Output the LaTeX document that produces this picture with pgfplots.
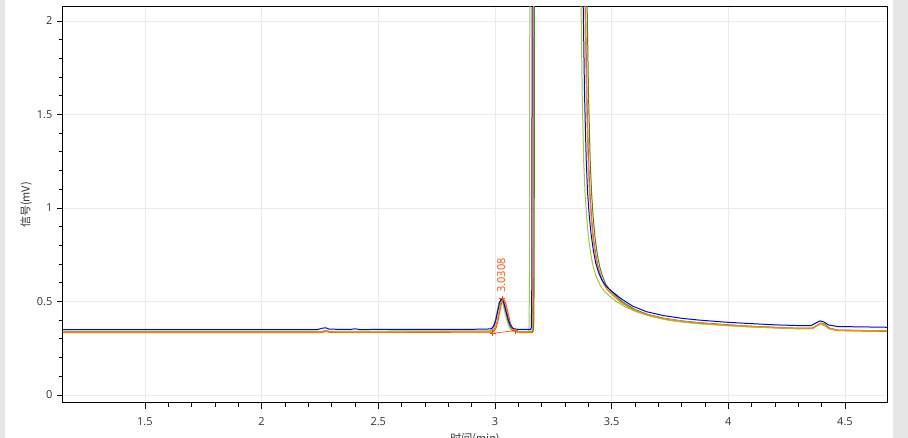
\documentclass[border=0pt]{standalone}
\usepackage{pgfplots}
\pgfplotsset{compat=1.18}
\usepackage{fontspec}
\setmainfont{Open Sans}
\newfontfamily\cjk{Noto Sans CJK SC}

\definecolor{cblue}{HTML}{0000FF}
\definecolor{corange}{HTML}{FF8C00}
\definecolor{cred}{HTML}{FF4500}
\definecolor{clgreen}{HTML}{9ACD32}
\definecolor{cdgreen}{HTML}{3A8A2A}
\definecolor{gridc}{HTML}{EBEBEB}
\definecolor{side}{HTML}{E6E6E6}
\definecolor{txt}{HTML}{333333}

\begin{document}
\begin{tikzpicture}
% page background and the grey strips at both sides
\fill[white] (-63pt,-35pt) rectangle (845pt,403pt);
\fill[side] (-63pt,-35pt) rectangle (-58pt,403pt);
\fill[side] (830pt,-35pt) rectangle (845pt,403pt);
\begin{axis}[
  at={(0,0)}, anchor=south west,
  scale only axis, width=824pt, height=396pt,
  xmin=1.149, xmax=4.68, ymin=-0.043, ymax=2.075,
  xtick={1.5,2,...,4.5}, ytick={0,0.5,...,2},
  minor x tick num=4, minor y tick num=4,
  tick align=outside, xtick pos=left, ytick pos=left,
  major tick length=6pt, minor tick length=4pt,
  grid=major, major grid style={gridc, line width=0.8pt},
  axis line style={black, line width=1pt},
  tick style={black, line width=0.8pt},
  ticklabel style={font=\fontsize{11}{13}\selectfont, text=txt},
  xticklabel style={yshift=-5pt},
  yticklabel style={xshift=-1pt},
  /pgf/number format/assume math mode=true,
  xlabel={\cjk 时间(min)}, ylabel={\cjk 信号(mV)},
  every axis x label/.style={at={(axis description cs:0.5,0)}, anchor=base,
    yshift=-39.5pt, font=\fontsize{11}{13}\selectfont, text=txt},
  every axis y label/.style={at={(axis description cs:0,0.5)}, xshift=-37pt,
    rotate=90, anchor=center, font=\fontsize{11}{13}\selectfont, text=txt},
  every axis plot/.append style={line width=1pt, line join=round},
]
% orange-red
\addplot[cred] coordinates {
(1.149,0.334) (2.26,0.334) (2.277,0.340) (2.29,0.335) (2.39,0.334) (2.40,0.337) (2.41,0.334)
(2.988,0.336) (2.996,0.342) (3.004,0.358) (3.012,0.393) (3.020,0.443) (3.028,0.493)
(3.036,0.514) (3.0455,0.493) (3.055,0.443) (3.0645,0.393) (3.074,0.358) (3.0835,0.342)
(3.093,0.336) (3.105,0.334) (3.160,0.334) (3.163,0.36) (3.165,0.6) (3.167,3) (3.170,8)
(3.38,8) (3.383,3.0) (3.388,2.08) (3.394,1.6) (3.401,1.26) (3.407,1.08) (3.414,0.95)
(3.422,0.84) (3.432,0.75) (3.442,0.685) (3.454,0.633) (3.467,0.593) (3.482,0.563)
(3.502,0.538) (3.537,0.498) (3.59,0.456) (3.65,0.428) (3.72,0.408) (3.80,0.393)
(3.87,0.384) (3.98,0.373) (4.09,0.365) (4.20,0.359) (4.30,0.354) (4.36,0.355)
(4.38,0.37) (4.397,0.382) (4.414,0.376) (4.434,0.354) (4.47,0.344) (4.68,0.340)
};
% dark green
\addplot[cdgreen] coordinates {
(1.149,0.340) (2.26,0.340) (2.275,0.345) (2.29,0.340)
(2.979,0.342) (2.987,0.347) (2.995,0.363) (3.003,0.395) (3.011,0.443) (3.019,0.490)
(3.027,0.510) (3.0365,0.490) (3.046,0.443) (3.0555,0.395) (3.065,0.363) (3.0745,0.347)
(3.084,0.342) (3.095,0.340) (3.163,0.340) (3.166,0.36) (3.168,0.6) (3.170,3) (3.173,8)
(3.388,8) (3.391,3.0) (3.395,2.08) (3.401,1.6) (3.408,1.26) (3.414,1.08) (3.421,0.95)
(3.429,0.84) (3.439,0.75) (3.449,0.685) (3.461,0.635) (3.474,0.595) (3.489,0.565)
(3.509,0.54) (3.544,0.50) (3.598,0.458) (3.656,0.43) (3.725,0.41) (3.80,0.396)
(3.875,0.387) (3.98,0.377) (4.09,0.368) (4.20,0.362) (4.30,0.357) (4.36,0.358)
(4.38,0.372) (4.397,0.384) (4.414,0.378) (4.434,0.357) (4.47,0.347) (4.68,0.343)
};
% yellow-green
\addplot[clgreen] coordinates {
(1.149,0.338) (2.26,0.338) (2.272,0.343) (2.287,0.338)
(2.976,0.340) (2.984,0.345) (2.992,0.361) (3.000,0.393) (3.008,0.441) (3.016,0.488)
(3.024,0.508) (3.0335,0.488) (3.043,0.441) (3.0525,0.393) (3.062,0.361) (3.0715,0.345)
(3.081,0.340) (3.09,0.338) (3.143,0.338) (3.146,0.36) (3.148,0.6) (3.150,3) (3.153,8)
(3.362,8) (3.365,3.0) (3.369,2.08) (3.374,1.6) (3.380,1.26) (3.386,1.08) (3.393,0.95)
(3.401,0.84) (3.411,0.75) (3.422,0.68) (3.435,0.63) (3.45,0.59) (3.468,0.555)
(3.49,0.53) (3.52,0.50) (3.56,0.47) (3.61,0.443) (3.67,0.42) (3.74,0.40) (3.82,0.387)
(3.90,0.378) (4.00,0.37) (4.09,0.364) (4.20,0.359) (4.30,0.355) (4.36,0.355)
(4.378,0.368) (4.392,0.378) (4.41,0.372) (4.43,0.354) (4.47,0.346) (4.68,0.342)
};
% orange
\addplot[corange] coordinates {
(1.149,0.336) (2.26,0.336) (2.275,0.342) (2.29,0.337) (2.39,0.336) (2.40,0.339) (2.41,0.336)
(2.985,0.338) (2.993,0.344) (3.001,0.360) (3.009,0.394) (3.017,0.443) (3.025,0.492)
(3.033,0.513) (3.0425,0.492) (3.052,0.443) (3.0615,0.394) (3.071,0.360) (3.0805,0.344)
(3.090,0.338) (3.10,0.336) (3.158,0.336) (3.161,0.36) (3.163,0.6) (3.165,3) (3.168,8)
(3.378,8) (3.382,3.0) (3.386,2.08) (3.392,1.6) (3.399,1.26) (3.405,1.08) (3.412,0.95)
(3.42,0.84) (3.43,0.75) (3.44,0.685) (3.452,0.635) (3.465,0.595) (3.48,0.565)
(3.50,0.54) (3.535,0.50) (3.59,0.458) (3.65,0.43) (3.72,0.41) (3.80,0.395)
(3.87,0.386) (3.98,0.375) (4.09,0.367) (4.20,0.361) (4.30,0.356) (4.36,0.357)
(4.378,0.372) (4.395,0.384) (4.412,0.378) (4.432,0.356) (4.47,0.346) (4.68,0.342)
};
% blue
\addplot[cblue] coordinates {
(1.149,0.350) (2.24,0.350) (2.26,0.357) (2.275,0.359) (2.29,0.352) (2.38,0.350)
(2.40,0.354) (2.42,0.350) (2.90,0.351)
(2.980,0.353) (2.988,0.358) (2.996,0.373) (3.004,0.404) (3.012,0.450) (3.020,0.496)
(3.028,0.515) (3.0375,0.496) (3.047,0.450) (3.0565,0.404) (3.066,0.373) (3.0755,0.358)
(3.085,0.353) (3.10,0.351) (3.153,0.351) (3.156,0.36) (3.158,0.6) (3.160,3) (3.163,8)
(3.37,8) (3.374,3.0) (3.378,2.1) (3.384,1.6) (3.391,1.26) (3.397,1.08) (3.404,0.96)
(3.412,0.86) (3.422,0.77) (3.432,0.705) (3.444,0.655) (3.458,0.615) (3.474,0.585)
(3.50,0.555) (3.54,0.515) (3.59,0.475) (3.65,0.445) (3.72,0.425) (3.80,0.41)
(3.87,0.401) (3.98,0.39) (4.09,0.382) (4.20,0.375) (4.30,0.371) (4.355,0.371)
(4.375,0.385) (4.393,0.396) (4.41,0.390) (4.43,0.374) (4.47,0.366) (4.68,0.362)
};
% integration markers of the 3.03 peak
\addplot[cred, line width=0.6pt, mark=+, mark size=3pt, mark options={line width=0.8pt}]
  coordinates {(2.990,0.330) (3.087,0.344)};
\addplot[cred, only marks, mark=+, mark size=3pt, mark options={line width=0.8pt}]
  coordinates {(3.031,0.515)};
\node[rotate=90, anchor=west, inner sep=0pt, text=cred!85!orange,
  font=\fontsize{11}{13}\selectfont] at (axis cs:3.027,0.546) {3.0308};
\end{axis}
\pgfresetboundingbox
\path[use as bounding box] (-63pt,-35pt) rectangle (845pt,403pt);
\end{tikzpicture}
\end{document}
